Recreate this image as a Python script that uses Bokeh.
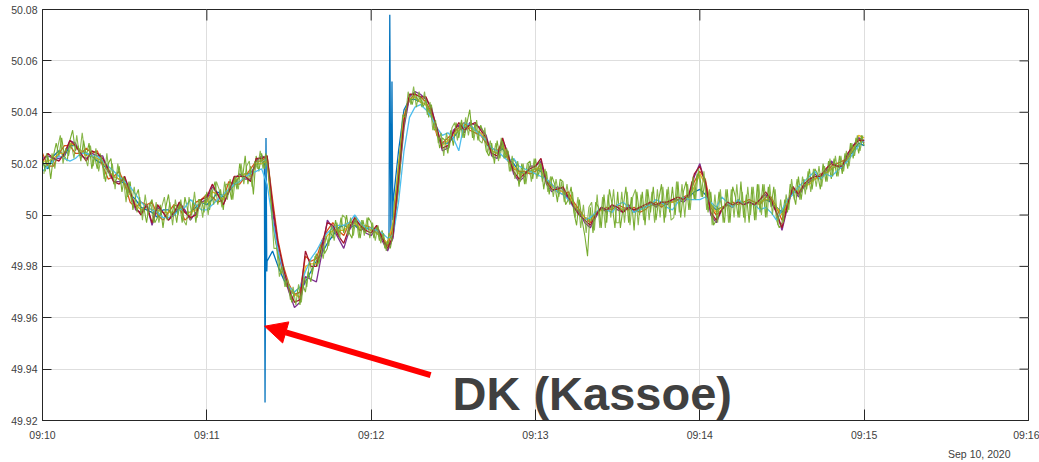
from datetime import datetime, timedelta
from bokeh.plotting import figure
from bokeh.models import (FixedTicker, DatetimeTickFormatter, Range1d, Label, Arrow,
                          NormalHead, NumeralTickFormatter, Title)
from bokeh.embed import file_html
from bokeh.resources import INLINE

# ---------------- data (frequency in Hz) ----------------
START = datetime(2020, 9, 10, 9, 10, 0)
sample_seconds = list(range(0, 301, 2))          # 2-s sampling grid for most series
green_seconds = list(range(0, 301))              # 1-s grid, noisy green unit
green_b_seconds = [s + 0.5 for s in range(300)]  # second noisy green unit (half-second offset)

blue_hz = [
50.020,50.018,50.023,50.025,50.023,50.027,50.027,50.025,50.024,50.023,
50.021,50.020,50.017,50.015,50.014,50.012,50.008,50.006,50.003,50.002,
50.001,49.999,50.002,50.002,50.000,50.003,50.001,50.001,50.003,50.005,
50.004,50.006,50.009,50.007,50.009,50.012,50.015,50.016,50.016,50.020,
50.020,49.982,49.986,49.980,49.975,49.971,49.969,49.970,49.974,49.978,
49.982,49.985,49.989,49.992,49.995,49.996,49.995,49.996,49.994,49.995,
49.994,49.993,49.991,49.988,50.005,50.025,50.041,50.045,50.045,50.044,
50.043,50.039,50.032,50.028,50.028,50.030,50.033,50.034,50.035,50.033,
50.032,50.028,50.025,50.024,50.026,50.022,50.020,50.017,50.016,50.017,
50.018,50.017,50.014,50.011,50.010,50.009,50.007,50.004,50.001,49.999,
49.998,50.001,50.002,50.002,50.003,50.003,50.002,50.003,50.002,50.002,
50.003,50.004,50.004,50.004,50.005,50.005,50.006,50.006,50.007,50.009,
50.010,50.008,50.004,50.002,50.003,50.004,50.004,50.005,50.004,50.005,
50.004,50.005,50.006,50.005,50.003,50.001,50.005,50.009,50.009,50.011,
50.013,50.014,50.015,50.016,50.018,50.019,50.019,50.022,50.025,50.028,
50.027]
# short transients recorded only by the blue (DK Kassoe) unit
blue_spike_seconds = [81.0, 81.25, 81.6, 81.9, 126.5, 126.8, 127.2, 127.6, 127.9]
blue_spike_hz = [50.021, 49.927, 50.030, 49.978, 49.989, 50.078, 49.992, 50.052, 49.998]

orange_hz = [
50.024,50.019,50.019,50.024,50.027,50.027,50.024,50.024,50.026,50.024,
50.025,50.019,50.014,50.015,50.017,50.012,50.005,50.003,50.005,50.004,
50.005,50.000,49.998,50.001,50.004,50.003,49.998,50.000,50.005,50.006,
50.008,50.007,50.005,50.006,50.013,50.012,50.012,50.015,50.018,50.021,
50.021,50.023,50.006,49.990,49.980,49.973,49.969,49.970,49.984,49.982,
49.983,49.990,49.994,49.997,49.994,49.992,49.997,49.997,49.994,49.996,
49.995,49.994,49.992,49.988,49.995,50.018,50.038,50.045,50.047,50.046,
50.044,50.040,50.031,50.028,50.030,50.032,50.034,50.036,50.033,50.032,
50.031,50.028,50.026,50.025,50.028,50.021,50.018,50.017,50.017,50.016,
50.017,50.020,50.014,50.012,50.009,50.008,50.009,50.005,50.002,49.999,
49.997,50.001,50.002,50.003,50.002,50.004,50.003,50.002,50.003,50.001,
50.002,50.004,50.005,50.003,50.005,50.005,50.006,50.007,50.008,50.013,
50.017,50.014,50.003,50.000,50.002,50.004,50.005,50.004,50.005,50.006,
50.005,50.004,50.007,50.007,50.003,49.998,50.005,50.010,50.009,50.011,
50.013,50.014,50.016,50.016,50.019,50.020,50.021,50.022,50.026,50.030,
50.028]

yellow_hz = [
50.021,50.021,50.022,50.024,50.024,50.028,50.027,50.025,50.023,50.023,
50.022,50.021,50.017,50.015,50.014,50.013,50.008,50.004,50.002,50.003,
50.002,50.002,50.001,50.001,50.001,50.004,50.001,50.001,50.002,50.005,
50.005,50.009,50.008,50.006,50.010,50.013,50.015,50.016,50.015,50.020,
50.020,50.021,49.998,49.985,49.977,49.972,49.969,49.968,49.980,49.981,
49.981,49.987,49.992,49.994,49.994,49.994,49.996,49.997,49.995,49.996,
49.994,49.993,49.991,49.989,49.997,50.020,50.039,50.045,50.046,50.044,
50.043,50.038,50.032,50.027,50.029,50.031,50.033,50.035,50.034,50.033,
50.032,50.029,50.025,50.024,50.027,50.022,50.019,50.016,50.016,50.017,
50.018,50.018,50.013,50.011,50.010,50.009,50.008,50.004,50.001,49.999,
49.998,50.000,50.002,50.002,50.003,50.003,50.002,50.003,50.002,50.002,
50.003,50.004,50.004,50.004,50.005,50.005,50.006,50.006,50.007,50.011,
50.016,50.012,50.004,50.001,50.003,50.004,50.004,50.005,50.004,50.005,
50.004,50.005,50.006,50.006,50.003,50.000,50.005,50.010,50.009,50.011,
50.012,50.014,50.015,50.016,50.018,50.019,50.020,50.022,50.026,50.031,
50.030]

purple_hz = [
50.022,50.023,50.022,50.022,50.023,50.029,50.028,50.023,50.022,50.024,
50.023,50.023,50.017,50.013,50.013,50.014,50.009,50.002,50.001,50.004,
49.996,50.003,50.001,49.998,50.000,50.005,50.002,49.998,50.001,50.005,
50.006,50.011,50.008,50.004,50.009,50.014,50.016,50.014,50.014,50.021,
50.023,50.022,50.002,49.986,49.977,49.970,49.964,49.966,49.976,49.975,
49.974,49.985,49.998,49.995,49.991,49.987,49.994,49.998,49.996,49.993,
49.992,49.995,49.990,49.986,49.991,50.012,50.034,50.046,50.048,50.047,
50.045,50.042,50.033,50.025,50.026,50.033,50.035,50.032,50.036,50.035,
50.034,50.031,50.023,50.022,50.029,50.024,50.016,50.013,50.015,50.019,
50.019,50.021,50.012,50.009,50.011,50.010,50.006,50.003,50.001,49.997,
49.995,49.999,50.003,50.001,50.004,50.002,50.001,50.004,50.001,50.003,
50.003,50.005,50.003,50.005,50.004,50.006,50.006,50.005,50.007,50.015,
50.020,50.012,50.000,49.997,50.002,50.004,50.003,50.006,50.004,50.005,
50.004,50.006,50.008,50.005,50.001,49.994,50.003,50.011,50.007,50.011,
50.013,50.016,50.014,50.017,50.021,50.019,50.018,50.023,50.027,50.030,
50.029]

green_hz = [
50.022,50.017,50.023,50.014,50.023,50.028,50.023,50.030,50.023,50.021,
50.029,50.033,50.025,50.027,50.021,50.029,50.023,50.028,50.018,50.023,
50.018,50.024,50.020,50.013,50.020,50.022,50.012,50.014,50.019,50.009,
50.015,50.007,50.013,50.002,50.007,50.010,50.000,50.003,49.997,50.004,
50.006,49.997,49.999,50.004,49.995,50.003,50.008,49.999,50.004,49.997,
50.005,49.997,50.007,50.002,49.998,50.006,49.997,50.006,50.006,50.001,
50.009,50.002,50.009,50.013,50.004,50.010,50.002,50.012,50.012,50.006,
50.015,50.010,50.020,50.014,50.023,50.012,50.019,50.008,50.023,50.017,
50.024,50.018,50.023,50.014,49.998,49.990,49.985,49.977,49.980,49.972,
49.973,49.966,49.970,49.971,49.965,49.973,49.970,49.978,49.974,49.981,
49.985,49.981,49.990,49.985,49.987,49.994,49.991,49.998,49.992,49.999,
49.993,50.000,49.993,49.991,49.999,49.997,49.991,49.998,49.993,49.999,
49.997,49.991,49.996,49.990,49.994,49.987,49.990,49.987,49.993,50.002,
50.010,50.024,50.035,50.042,50.046,50.043,50.048,50.044,50.046,50.042,
50.045,50.038,50.043,50.033,50.034,50.026,50.030,50.029,50.024,50.033,
50.027,50.036,50.030,50.037,50.030,50.036,50.041,50.030,50.036,50.029,
50.035,50.032,50.025,50.023,50.028,50.020,50.029,50.022,50.029,50.022,
50.025,50.017,50.022,50.020,50.011,50.020,50.012,50.020,50.021,50.014,
50.022,50.015,50.020,50.010,50.017,50.008,50.015,50.012,50.005,50.014,
50.013,50.004,50.006,50.011,50.001,49.996,50.006,49.998,49.992,49.984,
50.003,49.993,50.005,50.003,49.995,50.008,49.997,50.010,50.004,49.995,
50.009,49.995,50.003,50.011,49.997,50.007,49.994,50.009,50.000,50.009,
49.996,50.010,50.001,50.011,49.998,50.006,50.012,49.997,50.010,50.001,
50.011,50.000,50.013,49.999,50.009,50.013,50.002,50.013,50.006,50.016,
50.015,50.007,50.014,50.001,50.009,49.996,49.998,50.009,50.003,49.997,
50.010,49.997,50.011,50.007,49.999,50.013,49.999,50.008,49.997,50.011,
49.998,50.012,50.001,50.012,49.999,50.011,50.003,50.011,49.998,49.995,
49.997,50.006,50.001,50.012,50.009,50.004,50.015,50.006,50.014,50.010,
50.018,50.010,50.018,50.016,50.010,50.020,50.013,50.021,50.014,50.022,
50.015,50.023,50.016,50.024,50.018,50.028,50.022,50.030,50.024,50.031,
50.027]

green_b_hz = [
50.016,50.024,50.018,50.024,50.018,50.026,50.031,50.020,50.026,50.023,
50.028,50.022,50.031,50.023,50.032,50.023,50.019,50.027,50.019,50.026,
50.017,50.023,50.014,50.024,50.015,50.020,50.010,50.020,50.012,50.015,
50.005,50.013,50.005,50.011,50.001,50.007,49.998,50.008,50.000,50.005,
49.997,50.005,49.997,50.003,50.007,49.998,50.005,49.996,50.006,50.000,
50.006,49.998,49.996,50.007,50.000,50.009,49.999,50.006,49.999,50.008,
50.000,50.010,50.004,50.013,50.010,50.003,50.013,50.006,50.014,50.006,
50.015,50.010,50.020,50.012,50.019,50.021,50.011,50.021,50.018,50.025,
50.018,50.024,50.016,50.004,49.987,49.987,49.976,49.980,49.972,49.975,
49.967,49.972,49.965,49.973,49.966,49.976,49.972,49.982,49.977,49.984,
49.980,49.988,49.983,49.992,49.988,49.996,49.990,49.997,49.991,50.000,
49.999,49.992,49.999,49.992,49.999,49.991,49.998,49.992,49.999,49.991,
49.997,49.990,49.996,49.989,49.993,49.986,49.993,49.990,50.005,50.013,
50.024,50.039,50.038,50.048,50.043,50.050,50.042,50.048,50.042,50.048,
50.039,50.044,50.033,50.037,50.028,50.032,50.023,50.032,50.026,50.034,
50.036,50.029,50.036,50.030,50.038,50.031,50.037,50.029,50.037,50.029,
50.028,50.034,50.024,50.029,50.022,50.028,50.021,50.030,50.022,50.026,
50.017,50.023,50.014,50.021,50.013,50.020,50.012,50.020,50.013,50.022,
50.014,50.021,50.013,50.018,50.009,50.015,50.007,50.014,50.007,50.013,
50.005,50.012,50.004,50.009,49.999,50.007,49.995,50.004,49.993,50.003,
50.005,49.994,50.008,49.995,50.007,49.995,50.008,49.999,50.010,49.997,
49.997,50.009,49.997,50.009,49.996,50.007,50.010,49.996,50.008,49.998,
50.010,49.998,50.009,49.997,50.010,49.999,50.011,49.999,50.011,49.998,
49.999,50.013,50.001,50.012,49.999,50.012,50.002,50.015,50.006,50.018,
50.007,50.017,50.002,50.010,49.996,50.008,49.997,50.010,49.997,50.010,
49.997,50.010,49.999,50.012,49.999,50.009,49.997,50.011,50.000,50.011,
49.998,50.012,50.000,50.012,49.999,50.012,50.000,50.010,49.996,50.006,
49.997,50.008,50.002,50.014,50.006,50.014,50.006,50.015,50.008,50.017,
50.009,50.018,50.011,50.019,50.011,50.019,50.013,50.022,50.015,50.023,
50.015,50.023,50.017,50.025,50.019,50.028,50.023,50.031,50.025,50.031]

lightblue_hz = [
50.017,50.019,50.021,50.023,50.022,50.021,50.022,50.024,50.024,50.023,
50.023,50.021,50.019,50.017,50.015,50.013,50.011,50.008,50.005,50.003,
50.002,50.001,49.999,49.999,50.000,50.002,50.003,50.006,50.004,50.002,
50.002,50.004,50.006,50.008,50.010,50.012,50.013,50.015,50.016,50.017,
50.018,50.012,49.998,49.986,49.978,49.972,49.970,49.972,49.978,49.983,
49.986,49.990,49.993,49.995,49.996,49.996,49.997,50.000,49.997,49.995,
49.995,49.994,49.993,49.991,49.992,50.005,50.025,50.038,50.042,50.043,
50.041,50.038,50.034,50.031,50.032,50.030,50.025,50.036,50.035,50.033,
50.031,50.029,50.026,50.025,50.023,50.021,50.022,50.019,50.018,50.017,
50.016,50.015,50.014,50.012,50.009,50.008,50.006,50.003,50.000,49.998,
49.999,50.001,50.003,50.002,50.001,50.004,50.005,50.003,50.001,50.002,
50.003,50.004,50.006,50.005,50.003,50.002,50.005,50.007,50.006,50.006,
50.006,50.007,50.005,50.003,50.007,50.005,50.003,50.006,50.004,50.005,
50.004,50.002,50.003,50.001,49.998,50.002,50.006,50.008,50.011,50.013,
50.015,50.017,50.014,50.016,50.015,50.017,50.019,50.021,50.024,50.027,
50.029]

darkred_hz = [
50.021,50.024,50.022,50.021,50.024,50.029,50.027,50.024,50.021,50.025,
50.024,50.022,50.018,50.013,50.012,50.015,50.009,50.003,50.000,50.004,
49.997,50.004,50.001,49.998,50.001,50.005,50.001,49.999,50.000,50.006,
50.007,50.012,50.008,50.004,50.009,50.015,50.015,50.015,50.013,50.022,
50.022,50.023,50.004,49.989,49.979,49.971,49.966,49.967,49.986,49.980,
49.980,49.988,49.997,49.996,49.992,49.989,49.995,49.999,49.996,49.994,
49.993,49.996,49.991,49.987,49.992,50.015,50.037,50.047,50.047,50.046,
50.046,50.041,50.034,50.026,50.027,50.032,50.036,50.033,50.035,50.036,
50.033,50.030,50.024,50.023,50.030,50.023,50.017,50.014,50.016,50.018,
50.019,50.022,50.013,50.010,50.010,50.011,50.007,50.003,50.000,49.998,
49.996,50.000,50.003,50.002,50.004,50.003,50.001,50.003,50.002,50.003,
50.004,50.005,50.004,50.005,50.005,50.006,50.007,50.006,50.008,50.016,
50.019,50.013,50.001,49.998,50.002,50.005,50.004,50.005,50.004,50.005,
50.004,50.006,50.009,50.006,50.001,49.995,50.004,50.011,50.008,50.012,
50.014,50.015,50.015,50.018,50.020,50.019,50.019,50.024,50.027,50.029,
50.029]

x_tick_minutes = [0, 1, 2, 3, 4, 5, 6]
y_ticks = [49.92, 49.94, 49.96, 49.98, 50.0, 50.02, 50.04, 50.06, 50.08]
annotation_text = "DK (Kassoe)"
date_text = "Sep 10, 2020"

# ---------------- helpers ----------------
EPOCH = datetime(1970, 1, 1)

def ms(dt):
    return (dt - EPOCH).total_seconds() * 1000.0

def at(sec):
    return START + timedelta(seconds=sec)

blue_pairs = sorted(list(zip(sample_seconds, blue_hz)) + list(zip(blue_spike_seconds, blue_spike_hz)))
blue_t = [a for a, _ in blue_pairs]
blue_v = [b for _, b in blue_pairs]

# ---------------- figure ----------------
X0, X1 = ms(at(0)), ms(at(360))
Y0, Y1 = 49.92, 50.08
W, H = 1039, 462
BL, BR, BT, BB = 42, 11, 9, 42
p = figure(width=W, height=H, output_backend="svg", toolbar_location=None,
           x_axis_type="datetime",
           x_range=Range1d(X0, X1), y_range=Range1d(Y0, Y1),
           min_border_left=BL, min_border_right=BR, min_border_top=BT, min_border_bottom=BB)
p.background_fill_color = "white"
p.border_fill_color = "white"
p.outline_line_color = "#262626"
p.outline_line_width = 1

x_ticks_ms = [ms(at(60 * m)) for m in x_tick_minutes]
x_ticker = FixedTicker(ticks=x_ticks_ms)
y_ticker = FixedTicker(ticks=y_ticks)
x_fmt = DatetimeTickFormatter(seconds="%H:%M", minsec="%H:%M", minutes="%H:%M",
                              hourmin="%H:%M", hours="%H:%M", milliseconds="%H:%M")
y_fmt = NumeralTickFormatter(format="0.[00]")

FONT = "Liberation Sans"
XT_LEN, YT_LEN = 11, 9

def style_axis(ax, tick_len, standoff):
    ax.axis_line_color = "#262626"
    ax.axis_line_width = 1
    ax.major_tick_line_color = "#262626"
    ax.major_tick_in = tick_len
    ax.major_tick_out = 0
    ax.minor_tick_line_color = None
    ax.major_label_text_font = FONT
    ax.major_label_text_color = "#404040"
    ax.major_label_text_font_size = "10.5px"
    ax.major_label_standoff = standoff

p.xaxis.ticker = x_ticker
p.xaxis.formatter = x_fmt
p.yaxis.ticker = y_ticker
p.yaxis.formatter = y_fmt
for ax in p.xaxis:
    style_axis(ax, XT_LEN, 8)
for ax in p.yaxis:
    style_axis(ax, YT_LEN, 5)

p.xgrid.ticker = x_ticker
p.ygrid.ticker = y_ticker
p.grid.grid_line_color = "#dedede"
p.grid.grid_line_width = 1

# inward tick marks on the top and right edges of the box (MATLAB style)
frame_w = W - BL - BR
frame_h = H - BT - BB
dy_top = XT_LEN * (Y1 - Y0) / frame_h
dx_right = YT_LEN * (X1 - X0) / frame_w
p.segment(x0=x_ticks_ms, y0=[Y1] * len(x_ticks_ms), x1=x_ticks_ms, y1=[Y1 - dy_top] * len(x_ticks_ms),
          line_color="#262626", line_width=1)
p.segment(x0=[X1] * len(y_ticks), y0=y_ticks, x1=[X1 - dx_right] * len(y_ticks), y1=y_ticks,
          line_color="#262626", line_width=1)

# ---------------- series (MATLAB colour order) ----------------
grid_t = [at(s) for s in sample_seconds]
LW = 1.3
GREEN = "#77AC30"
p.line([at(s) for s in blue_t], blue_v, line_color="#0072BD", line_width=LW)
p.line(grid_t, orange_hz, line_color="#D95319", line_width=LW)
p.line(grid_t, yellow_hz, line_color="#EDB120", line_width=LW)
p.line(grid_t, purple_hz, line_color="#7E2F8E", line_width=LW)
p.line([at(s) for s in green_seconds], green_hz, line_color=GREEN, line_width=1.1)
p.line(grid_t, lightblue_hz, line_color="#4DBEEE", line_width=LW)
p.line(grid_t, darkred_hz, line_color="#A2142F", line_width=LW)
p.line([at(s) for s in green_b_seconds], green_b_hz, line_color=GREEN, line_width=1.1, line_alpha=0.85)

# ---------------- annotations ----------------
arrow = Arrow(end=NormalHead(size=22, fill_color="#ff0000", line_color="#ff0000"),
              x_start=ms(at(141.7)), y_start=49.9377,
              x_end=ms(at(81.1)), y_end=49.9567,
              line_color="#ff0000", line_width=6)
p.add_layout(arrow)

p.add_layout(Label(x=ms(at(149.7)), y=49.9306, text=annotation_text,
                   text_font=FONT, text_font_size="47px", text_font_style="bold",
                   text_color="#404040", text_baseline="alphabetic", text_align="left"))

p.add_layout(Title(text=date_text, align="right", offset=18, standoff=4,
                   text_font=FONT, text_font_size="10.5px", text_font_style="normal",
                   text_color="#404040"), "below")

open("out.html", "w").write(file_html(p, INLINE))
